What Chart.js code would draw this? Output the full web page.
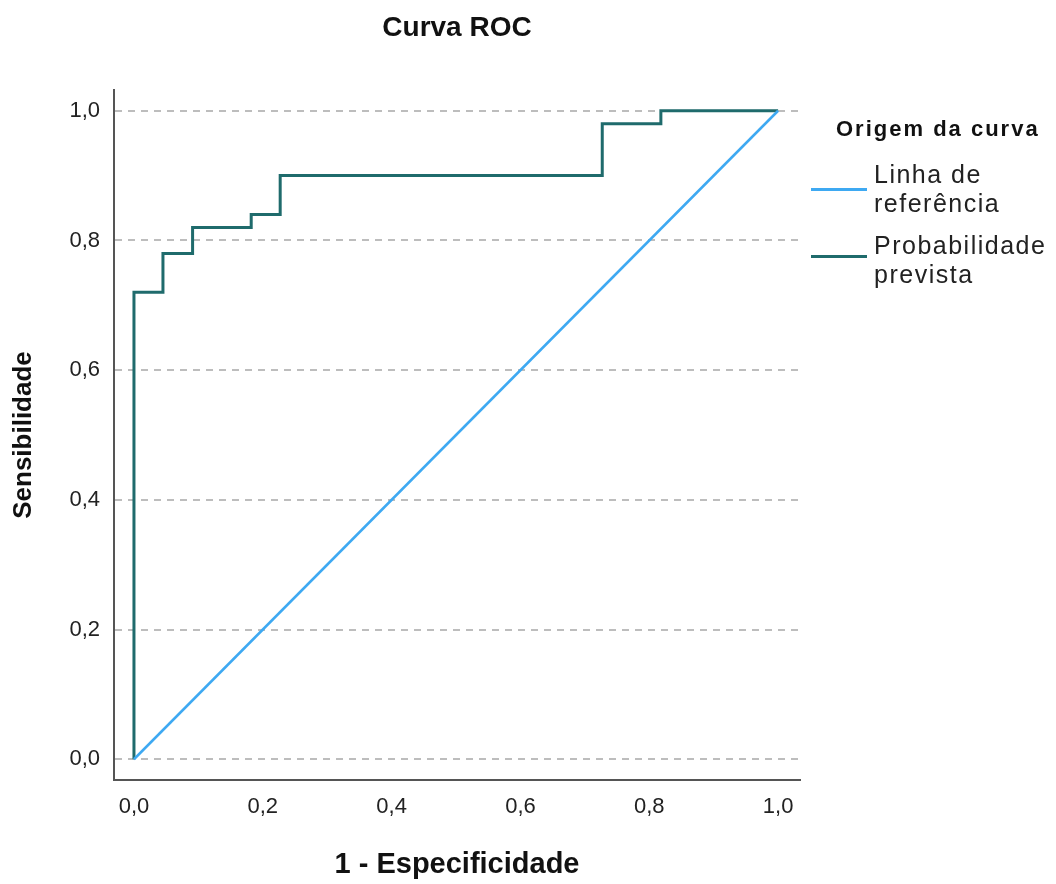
<!DOCTYPE html>
<html>
<head>
<meta charset="utf-8">
<script src="https://cdn.jsdelivr.net/npm/chart.js@4"></script>
<style>
  html, body { margin: 0; padding: 0; background: #fff; }
  #wrap { position: relative; width: 1056px; height: 884px; font-family: "Liberation Sans", Arial, sans-serif; }
  canvas { position: absolute; left: 0; top: 0; }
  .title { position: absolute; left: 257px; width: 400px; top: 10px; text-align: center; font-weight: bold; font-size: 28px; line-height: 34px; color: #111; }
  .lgtitle { position: absolute; left: 836px; top: 117px; font-weight: bold; font-size: 22px; line-height: 24px; letter-spacing: 2px; color: #111; white-space: nowrap; }
  .lgitem { position: absolute; left: 874px; font-size: 25px; line-height: 29px; letter-spacing: 1.5px; color: #222; white-space: nowrap; }
  .lgline { position: absolute; left: 811px; width: 56px; height: 3px; }
</style>
</head>
<body>
<div id="wrap">
  <canvas id="c" width="1056" height="884"></canvas>
  <div class="title">Curva ROC</div>
  <div class="lgtitle">Origem da curva</div>
  <div class="lgline" style="top:188px; background:#3ea9f2;"></div>
  <div class="lgitem" style="top:160px;">Linha de<br>referência</div>
  <div class="lgline" style="top:255px; background:#1f6b6c;"></div>
  <div class="lgitem" style="top:231px;">Probabilidade<br>prevista</div>
</div>
<script>
const refX = [0, 1];
const refY = [0, 1];
const rocFpr = [0, 0, 0.045, 0.091, 0.182, 0.227, 0.727, 0.818, 1.0];
const rocTpr = [0, 0.72, 0.78, 0.82, 0.84, 0.90, 0.98, 1.0, 1.0];
const tickValues = [0, 0.2, 0.4, 0.6, 0.8, 1.0];
const seriesNames = ["Linha de referência", "Probabilidade prevista"];

const fmt = v => v.toFixed(1).replace('.', ',');
const setTicks = s => { s.ticks = tickValues.map(v => ({ value: v })); };

new Chart(document.getElementById('c'), {
  type: 'line',
  data: {
    datasets: [
      {
        label: seriesNames[0],
        data: refX.map((x, i) => ({ x: x, y: refY[i] })),
        borderColor: '#3ea9f2',
        borderWidth: 2.5,
        pointRadius: 0,
        fill: false
      },
      {
        label: seriesNames[1],
        data: rocFpr.map((x, i) => ({ x: x, y: rocTpr[i] })),
        borderColor: '#1f6b6c',
        borderWidth: 3,
        pointRadius: 0,
        stepped: 'before',
        fill: false
      }
    ]
  },
  options: {
    responsive: false,
    animation: false,
    devicePixelRatio: 1,
    layout: { padding: { top: 90, right: 256, left: 0, bottom: 0 } },
    plugins: { legend: { display: false }, tooltip: { enabled: false }, title: { display: false } },
    scales: {
      x: {
        type: 'linear',
        min: -0.031,
        max: 1.034,
        afterBuildTicks: setTicks,
        afterFit: s => { s.height = 104; },
        grid: { display: false, drawTicks: false },
        border: { display: true, color: '#555', width: 2 },
        ticks: { callback: v => fmt(v), font: { size: 22, family: 'Liberation Sans' }, color: '#222', padding: 14, maxRotation: 0 },
        title: { display: true, text: '1 - Especificidade', font: { size: 29, weight: 'bold', family: 'Liberation Sans' }, color: '#111', padding: { top: 0, bottom: 2 } }
      },
      y: {
        type: 'linear',
        min: -0.032,
        max: 1.032,
        afterBuildTicks: setTicks,
        afterFit: s => { s.width = 114; },
        grid: { display: true, drawTicks: false, color: '#bdbdbd', lineWidth: 2 },
        border: { display: true, color: '#555', width: 2, dash: [7, 6] },
        ticks: { callback: v => fmt(v), font: { size: 22, family: 'Liberation Sans' }, color: '#222', padding: 14 },
        title: { display: true, text: 'Sensibilidade', font: { size: 26, weight: 'bold', family: 'Liberation Sans' }, color: '#111', padding: { top: 8, bottom: 0 } }
      }
    }
  }
});
</script>
</body>
</html>
